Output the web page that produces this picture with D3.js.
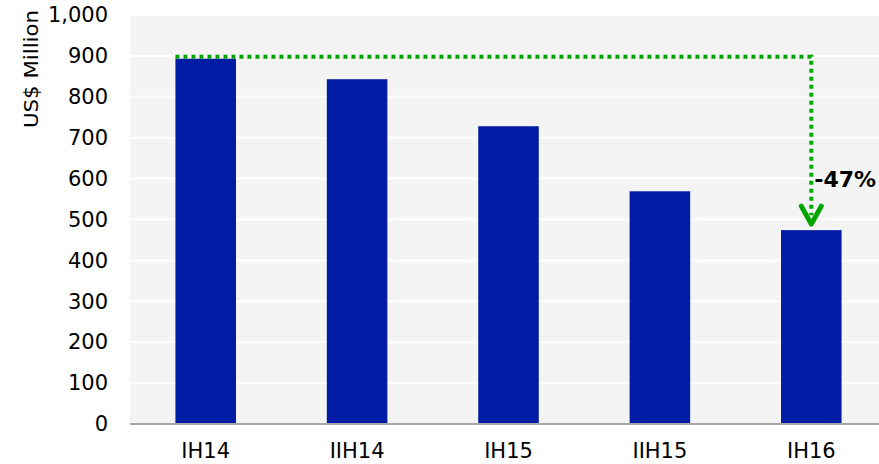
<!DOCTYPE html>
<html>
<head>
<meta charset="utf-8">
<script src="https://cdn.jsdelivr.net/npm/d3@7"></script>
<style>
  body { margin: 0; background: #fff; }
  text { font-family: "DejaVu Sans", Verdana, sans-serif; }
</style>
</head>
<body>
<div id="chart"></div>
<script>
let w = 879;
let h = 464;
let margin = { top: 15, right: -8, bottom: 40, left: 130 };

let periods = ["IH14", "IIH14", "IH15", "IIH15", "IH16"];
let values = [893, 843, 728, 569, 474];
let yTicks = [0, 100, 200, 300, 400, 500, 600, 700, 800, 900, 1000];
let changeLabel = "-47%";
let annotationLevel = 898;

let svg = d3.select("#chart")
            .append("svg")
            .attr("width", w)
            .attr("height", h);

let xScale = d3.scaleBand(periods, [margin.left, w - margin.right]).paddingInner(0.6).paddingOuter(0.3);
let yScale = d3.scaleLinear([0, 1000], [h - margin.bottom, margin.top]);

// plot background
svg.append("rect")
   .attr("x", margin.left)
   .attr("y", yScale(1000))
   .attr("width", w - margin.left)
   .attr("height", yScale(0) - yScale(1000))
   .attr("fill", "#f4f4f4");

// gridlines
svg.selectAll("line.grid")
   .data(yTicks.slice(1))
   .enter()
   .append("line")
   .attr("class", "grid")
   .attr("x1", margin.left)
   .attr("x2", w)
   .attr("y1", (d) => yScale(d))
   .attr("y2", (d) => yScale(d))
   .attr("stroke", "#ffffff")
   .attr("stroke-width", 2);

// bars
svg.selectAll("rect.bar")
   .data(periods)
   .enter()
   .append("rect")
   .attr("class", "bar")
   .attr("x", (d) => xScale(d))
   .attr("y", (d, i) => yScale(values[i]))
   .attr("width", xScale.bandwidth())
   .attr("height", (d, i) => yScale(0) - yScale(values[i]))
   .attr("fill", "#021ca6");

// baseline
svg.append("line")
   .attr("x1", margin.left)
   .attr("x2", w)
   .attr("y1", yScale(0))
   .attr("y2", yScale(0))
   .attr("stroke", "#a6a6a6")
   .attr("stroke-width", 2);

// y axis
let yAxis = d3.axisLeft(yScale).tickValues(yTicks).tickFormat(d3.format(",")).tickSize(0).tickPadding(22);
let yG = svg.append("g")
            .attr("transform", `translate(${margin.left},0)`)
            .call(yAxis);
yG.select(".domain").remove();
yG.selectAll("text").attr("font-size", 21).attr("fill", "#000")
  .style("font-family", "'DejaVu Sans', Verdana, sans-serif");

// x axis
let xAxis = d3.axisBottom(xScale).tickSize(0).tickPadding(19);
let xG = svg.append("g")
            .attr("transform", `translate(0,${yScale(0)})`)
            .call(xAxis);
xG.select(".domain").remove();
xG.selectAll("text").attr("font-size", 21).attr("fill", "#000")
  .style("font-family", "'DejaVu Sans', Verdana, sans-serif");

// y label
svg.append("text")
   .attr("transform", `translate(38,69) rotate(-90)`)
   .attr("text-anchor", "middle")
   .attr("font-size", 19)
   .attr("textLength", 118)
   .attr("lengthAdjust", "spacingAndGlyphs")
   .text("US$ Million");

// annotation
let first = periods[0];
let last = periods[periods.length - 1];
let xStart = xScale(first);
let xEnd = xScale(last) + xScale.bandwidth() / 2;
let yTop = yScale(annotationLevel);
let yTip = yScale(values[values.length - 1]) - 3;
let green = "#00a500";

svg.append("path")
   .attr("d", `M${xStart},${yTop} H${xEnd} V${yTip - 12}`)
   .attr("fill", "none")
   .attr("stroke", green)
   .attr("stroke-width", 4)
   .attr("stroke-dasharray", "4,4");

svg.append("path")
   .attr("d", `M${xEnd - 10},${yTip - 21} L${xEnd},${yTip - 3} L${xEnd + 10},${yTip - 21}`)
   .attr("fill", "none")
   .attr("stroke", green)
   .attr("stroke-width", 5)
   .attr("stroke-linecap", "round")
   .attr("stroke-linejoin", "round");

svg.append("text")
   .attr("x", xEnd + 3)
   .attr("y", yScale(580))
   .attr("font-size", 22)
   .attr("font-weight", "bold")
   .text(changeLabel);
</script>
</body>
</html>
